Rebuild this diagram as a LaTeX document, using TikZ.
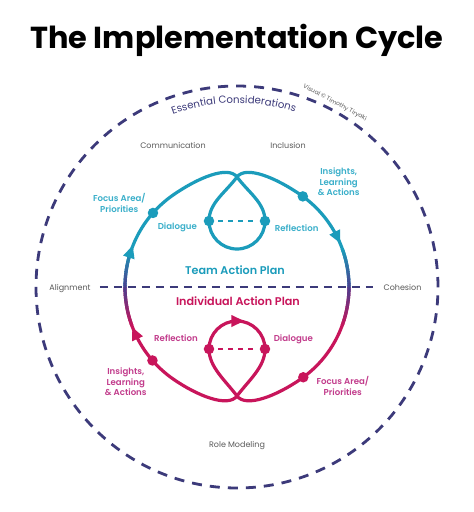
\documentclass[tikz,border=0pt]{standalone}
\usepackage{fontspec}
\usepackage{graphicx}
\newfontfamily\pop{Poppins}
\newfontfamily\popsb{Poppins SemiBold}
\usetikzlibrary{decorations.text}
\definecolor{tealc}{HTML}{1B9CBB}
\definecolor{teall}{HTML}{3AAFCA}
\definecolor{magc}{HTML}{C8155B}
\definecolor{magl}{HTML}{C23C8C}
\definecolor{purc}{HTML}{4B3E8E}
\definecolor{navy}{HTML}{3C3A7A}
\definecolor{grayt}{HTML}{5A5A5A}
\begin{document}
\begin{tikzpicture}[x=1pt,y=1pt,
  loopline/.style={line width=3.2pt},
  dot/.style={circle, inner sep=0pt, minimum size=10.5pt},
  lbl/.style={font=\popsb\fontsize{8.6}{10.8}\selectfont, align=center},
  graylbl/.style={font=\pop\fontsize{8}{10}\selectfont, text=grayt, anchor=base},
  bigl/.style={font=\popsb\fontsize{11.2}{13}\selectfont},
  minidash/.style={line width=2pt, dash pattern=on 5pt off 5pt, shorten <=4pt, shorten >=4pt},
]
\fill[white] (-237,-225) rectangle (237,287);
\useasboundingbox (-237,-225) rectangle (237,287);

% title
\node[anchor=base] (title) at (0,239) {\resizebox{413pt}{!}{\pop\bfseries The Implementation Cycle}};

% outer dashed circle
\draw[navy, line width=2.8pt, dash pattern=on 10pt off 8.04pt] (0,0) circle (201);
\path[decorate, decoration={text along path, text align=center, text color=navy,
  text={|\pop\fontsize{10.2}{12}\selectfont|Essential Considerations}}] (120:184) arc (120:62:184);
\node[rotate=-28, inner sep=0pt, text=grayt, font=\pop\fontsize{6}{7}\selectfont] (cpy) at (62:208.5) {Visual © Timothy Tiryaki};

% horizontal dashed line
\coordinate (hl) at (-137,0);
\coordinate (hr) at (136,0);
\draw[navy, line width=2.6pt, dash pattern=on 8pt off 6pt] (hl) -- (hr);

% upper (team) loop
\draw[tealc, loopline] (180:112) arc (180:125:112)
  .. controls (-39.6,108.9) and (-9,122) .. (0,110)
  .. controls (12,94) and (28,84) .. (28,66)
  arc (0:-180:28)
  .. controls (-28,84) and (-12,94) .. (0,110)
  .. controls (9,122) and (39.6,108.9) .. (64.24,91.74)
  arc (55:0:112);

% lower (individual) loop
\draw[magc, loopline] (180:112) arc (180:235:112)
  .. controls (-39.6,-108.9) and (-9,-121) .. (0,-109)
  .. controls (12,-93) and (28,-80) .. (28,-62)
  arc (0:180:28)
  .. controls (-28,-80) and (-12,-93) .. (0,-109)
  .. controls (9,-121) and (39.6,-108.9) .. (64.24,-91.74)
  arc (-55:0:112);

% gradient band
\foreach \i in {0,...,39} {
  \ifnum\i<20
    \pgfmathtruncatemacro\p{\i*5}\def\col{purc!\p!tealc}
  \else
    \pgfmathtruncatemacro\p{(\i-20)*5}\def\col{magc!\p!purc}
  \fi
  \pgfmathsetmacro\a{160+\i}\pgfmathsetmacro\b{161.3+\i}
  \pgfmathsetmacro\c{20-\i}\pgfmathsetmacro\d{18.7-\i}
  \draw[color=\col, line width=3.2pt] (\a:112) arc (\a:\b:112);
  \draw[color=\col, line width=3.2pt] (\c:112) arc (\c:\d:112);
}

% arrowheads
\fill[tealc, shift={(161.9:112)}, rotate=71.9] (7,0) -- (-5.5,6) -- (-5.5,-6) -- cycle;
\fill[tealc, shift={(26.6:112)}, rotate=-63.4] (7,0) -- (-5.5,6) -- (-5.5,-6) -- cycle;
\fill[magc, shift={(204.7:112)}, rotate=114.7] (7,0) -- (-5.5,6) -- (-5.5,-6) -- cycle;
\fill[magc, shift={(0,-34)}] (7,0) -- (-5.5,6) -- (-5.5,-6) -- cycle;

% dots upper
\node[dot, fill=tealc] (fa1) at (138.6:112) {};
\node[dot, fill=tealc] (in1) at (54:112) {};
\node[dot, fill=tealc] (dg1) at (-28,66) {};
\node[dot, fill=tealc] (rf1) at (28,66) {};
\draw[tealc, minidash] (dg1) -- (rf1);
% dots lower
\node[dot, fill=magc] (in2) at (221:112) {};
\node[dot, fill=magc] (fa2) at (306.3:112) {};
\node[dot, fill=magc] (rf2) at (-28,-62) {};
\node[dot, fill=magc] (dg2) at (28,-62) {};
\draw[magc, minidash] (rf2) -- (dg2);

% labels upper
\node[lbl, text=teall] (fal1) at (-117.7,83.7) {Focus Area/\\Priorities};
\node[lbl, text=teall] (dgl1) at (-59.7,59.3) {Dialogue};
\node[lbl, text=teall] (rfl1) at (59.7,59.3) {Reflection};
\node[lbl, text=teall] (inl1) at (101.7,105.3) {Insights,\\Learning\\\& Actions};
\node[bigl, text=tealc] (tap) at (-2,17) {Team Action Plan};
% labels lower
\node[bigl, text=magc] (iap) at (1,-13.7) {Individual Action Plan};
\node[lbl, text=magl] (rfl2) at (-61,-51.3) {Reflection};
\node[lbl, text=magl] (dgl2) at (56.3,-52.3) {Dialogue};
\node[lbl, text=magl] (inl2) at (-111.2,-94.7) {Insights,\\Learning\\\& Actions};
\node[lbl, text=magl] (fal2) at (105.8,-99.3) {Focus Area/\\Priorities};

% gray labels
\node[graylbl] (com) at (-64,139) {Communication};
\node[graylbl] (inc) at (51,139) {Inclusion};
\node[graylbl] (ali) at (-167,-3) {Alignment};
\node[graylbl] (coh) at (165.5,-3) {Cohesion};
\node[graylbl] (rol) at (0,-160) {Role Modeling};
\end{tikzpicture}
\end{document}
